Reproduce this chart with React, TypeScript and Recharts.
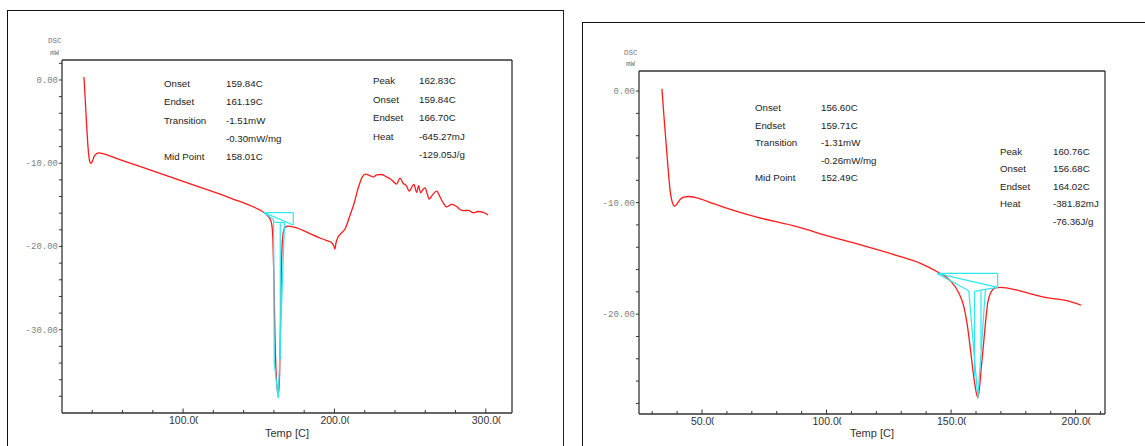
import React from 'react';
import { LineChart, Line, XAxis, YAxis, ReferenceLine } from 'recharts';

// ---------- Left panel data ----------
const leftTemp = [
  34.5, 35.3, 36.2, 37.0, 37.7, 38.4, 39.2, 40.1, 41.3, 42.8, 44.5, 47, 55, 70, 90, 110, 125, 133, 140, 146,
  151, 154.5, 156.5, 157.8, 158.7, 159.3, 159.9, 160.4, 161, 161.8, 162.4, 162.83, 163.3, 163.8, 164.3, 164.8,
  165.4, 166.2, 167.5, 169.5, 175, 182, 190, 195, 198.5, 199.7, 200.3, 201, 202, 204, 207, 210, 213, 216, 218.5,
  220.5, 223, 225.5, 228, 231, 234, 237, 239.5, 241, 243.3, 245.4, 247.5, 249.4, 251, 252.5, 254.3, 255.6, 256.9,
  258.3, 259.8, 261.2, 262.6, 264.8, 267.5, 270, 272, 274, 277.4, 280.7, 283, 285, 288.4, 291.7, 295, 298.3, 301.5,
];
const leftDsc = [
  0.36, -2.2, -5.2, -7.6, -9.1, -9.85, -10.0, -9.75, -9.15, -8.85, -8.75, -8.85, -9.35, -10.3, -11.55, -12.8, -13.75,
  -14.3, -14.75, -15.2, -15.65, -16.05, -16.45, -16.85, -17.5, -19.0, -23, -28, -33, -36.3, -37.4, -37.7, -37.2, -35,
  -30, -24, -20, -18.3, -17.7, -17.55, -17.76, -18.3, -18.95, -19.3, -19.6, -20.0, -20.3, -19.6, -19.0, -18.5, -17.9,
  -16.4, -14.8, -12.8, -11.6, -11.3, -11.45, -11.65, -11.4, -11.35, -11.6, -11.9, -12.3, -12.5, -11.8, -12.4, -12.7,
  -13.35, -12.9, -12.55, -13.5, -12.7, -13.55, -13.2, -12.95, -13.6, -14.3, -13.8, -13.35, -14.15, -14.8, -15.25,
  -14.95, -15.2, -15.55, -15.7, -15.65, -15.95, -15.8, -15.9, -16.2,
];
// analysis construction lines [t1, y1, t2, y2]
const leftSegments = [
  [153.6, -15.93, 172.8, -15.93],
  [172.8, -15.93, 172.8, -17.41],
  [153.6, -15.93, 172.8, -17.41],
  [153.6, -15.93, 159.8, -16.8],
  [159.8, -16.8, 160.2, -34.0],
  [160.2, -34.0, 162.9, -38.2],
  [160.3, -17.1, 167.0, -17.1],
  [164.2, -17.2, 164.2, -33.5],
  [167.0, -17.1, 162.9, -38.2],
];
const leftXTicks = [40, 60, 80, 100, 120, 140, 160, 180, 200, 220, 240, 260, 280, 300];
const leftXMajor = [100, 200, 300];
const leftYTicks = [2, 0, -2, -4, -6, -8, -10, -12, -14, -16, -18, -20, -22, -24, -26, -28, -30, -32, -34, -36, -38];
const leftYMajor = [0, -10, -20, -30];
const leftInfoALabels = ['Onset', 'Endset', 'Transition', '', 'Mid Point'];
const leftInfoAValues = ['159.84C', '161.19C', '-1.51mW', '-0.30mW/mg', '158.01C'];
const leftInfoBLabels = ['Peak', 'Onset', 'Endset', 'Heat', ''];
const leftInfoBValues = ['162.83C', '159.84C', '166.70C', '-645.27mJ', '-129.05J/g'];

// ---------- Right panel data ----------
const rightTemp = [
  33.9, 34.9, 35.9, 36.7, 37.3, 38.1, 39.0, 40.0, 41.3, 42.8, 44.6, 48, 54, 61.4, 72, 88, 101.5, 115, 128.3, 137.7,
  144.4, 149.7, 153.1, 155.1, 156.4, 157.8, 159.1, 160.0, 160.76, 161.4, 162.2, 162.9, 163.8, 164.7, 166.1, 167.8,
  169.8, 176.5, 183.2, 189.6, 196.5, 202.3,
];
const rightDsc = [
  0.2, -2.8, -5.6, -7.8, -9.1, -10.0, -10.32, -10.1, -9.7, -9.5, -9.45, -9.58, -10.05, -10.6, -11.3, -12.15, -13.05,
  -13.88, -14.75, -15.45, -16.2, -17.0, -18.1, -19.3, -20.8, -23.2, -25.6, -26.9, -27.5, -26.6, -24.6, -23.0, -20.8,
  -19.0, -18.0, -17.64, -17.6, -17.84, -18.25, -18.57, -18.78, -19.2,
];
const rightSegments = [
  [144.4, -16.35, 168.7, -16.35],
  [168.7, -16.35, 168.7, -17.6],
  [144.4, -16.35, 168.7, -17.6],
  [144.4, -16.35, 157.1, -17.9],
  [157.1, -17.9, 160.76, -27.5],
  [159.4, -17.95, 159.4, -25.6],
  [159.4, -17.95, 163.8, -17.78],
  [163.8, -17.78, 160.76, -27.5],
  [163.8, -17.78, 168.7, -17.6],
  [162.0, -17.9, 162.0, -23.2],
];
const rightXTicks = [30, 40, 50, 60, 70, 80, 90, 100, 110, 120, 130, 140, 150, 160, 170, 180, 190, 200, 210];
const rightXMajor = [50, 100, 150, 200];
const rightYTicks = [0, -2, -4, -6, -8, -10, -12, -14, -16, -18, -20, -22, -24, -26, -28];
const rightYMajor = [0, -10, -20];
const rightInfoALabels = ['Onset', 'Endset', 'Transition', '', 'Mid Point'];
const rightInfoAValues = ['156.60C', '159.71C', '-1.31mW', '-0.26mW/mg', '152.49C'];
const rightInfoBLabels = ['Peak', 'Onset', 'Endset', 'Heat', ''];
const rightInfoBValues = ['160.76C', '156.68C', '164.02C', '-381.82mJ', '-76.36J/g'];

// ---------- helpers ----------
const RED = '#ff1a1a';
const CYAN = '#2ee8f0';
const FRAME = '#333';
const SANS = '"Liberation Sans", Arial, sans-serif';
const MONO = '"Liberation Mono", "DejaVu Sans Mono", monospace';

const rows = (t: number[], v: number[]) => t.map((x, i) => ({ t: x, v: v[i] }));
const segRows = (s: number[]) => [
  { t: s[0], v: s[1] },
  { t: s[2], v: s[3] },
];

let clipCounter = 0;
const charW = (c: string) => (c === '.' ? 0.278 : 0.556);

const makeXTick = (majors: number[], prefix: string) => (props: any) => {
  const { x, y, payload } = props;
  const val = payload.value;
  const isMajor = majors.includes(val);
  const fs = 10.5;
  const label = val.toFixed(2);
  const chars = label.split('');
  const fullW = chars.reduce((a, c) => a + charW(c) * fs, 0);
  const lastW = charW(chars[chars.length - 1]) * fs;
  const start = x - fullW / 2 + 2;
  const clipRight = start + fullW - lastW + 2.6;
  const id = `${prefix}-x-${val}`;
  return (
    <g>
      <line x1={x} y1={y} x2={x} y2={y - (isMajor ? 4.5 : 3)} stroke={FRAME} strokeWidth={1} />
      {isMajor && (
        <>
          <defs>
            <clipPath id={id}>
              <rect x={start - 5} y={y} width={clipRight - start + 5} height={20} />
            </clipPath>
          </defs>
          <text
            x={start}
            y={y + 10.5}
            textAnchor="start"
            fontFamily={SANS}
            fontSize={fs}
            fill="#333"
            clipPath={`url(#${id})`}
          >
            {label}
          </text>
        </>
      )}
    </g>
  );
};

const makeYTick = (majors: number[]) => (props: any) => {
  const { x, y, payload } = props;
  const val = payload.value;
  const isMajor = majors.includes(val);
  return (
    <g>
      <line x1={x} y1={y} x2={x - 3} y2={y} stroke={FRAME} strokeWidth={1} />
      {isMajor && (
        <text x={x - 4} y={y + 3} textAnchor="end" fontFamily={MONO} fontSize={9} fill="#808080">
          {val.toFixed(2)}
        </text>
      )}
    </g>
  );
};

type PanelProps = {
  left: number;
  width: number;
  height: number;
  margin: { top: number; right: number; left: number; bottom: number };
  yWidth: number;
  xHeight: number;
  xDomain: [number, number];
  yDomain: [number, number];
  xTicks: number[];
  xMajor: number[];
  yTicks: number[];
  yMajor: number[];
  temp: number[];
  dsc: number[];
  segments: number[][];
  id: string;
};

const Panel = (p: PanelProps) => (
  <div style={{ position: 'absolute', left: p.left, top: 0 }}>
    <LineChart width={p.width} height={p.height} margin={p.margin}>
      <XAxis
        dataKey="t"
        type="number"
        domain={p.xDomain}
        allowDataOverflow
        ticks={p.xTicks}
        interval={0}
        tickSize={0}
        tickMargin={0}
        tickLine={false}
        tick={makeXTick(p.xMajor, p.id)}
        axisLine={{ stroke: FRAME, strokeWidth: 1.3 }}
        height={p.xHeight}
      />
      <YAxis
        dataKey="v"
        type="number"
        domain={p.yDomain}
        allowDataOverflow
        ticks={p.yTicks}
        interval={0}
        tickSize={0}
        tickMargin={0}
        tickLine={false}
        tick={makeYTick(p.yMajor)}
        axisLine={{ stroke: FRAME, strokeWidth: 1.3 }}
        width={p.yWidth}
      />
      <ReferenceLine y={p.yDomain[1]} stroke={FRAME} strokeWidth={1.3} />
      <ReferenceLine x={p.xDomain[1]} stroke={FRAME} strokeWidth={1.3} />
      <Line
        data={rows(p.temp, p.dsc)}
        dataKey="v"
        type="monotone"
        stroke={RED}
        strokeWidth={1.3}
        dot={false}
        isAnimationActive={false}
      />
      {p.segments.map((s, i) => (
        <Line
          key={`${p.id}-seg-${i}`}
          data={segRows(s)}
          dataKey="v"
          type="linear"
          stroke={CYAN}
          strokeWidth={1.2}
          dot={false}
          isAnimationActive={false}
        />
      ))}
    </LineChart>
  </div>
);

const InfoBlock = ({
  labels,
  values,
  x,
  valueX,
  top,
  step,
}: {
  labels: string[];
  values: string[];
  x: number;
  valueX: number;
  top: number;
  step: number;
}) => (
  <>
    {labels.map((l, i) => (
      <React.Fragment key={i}>
        {l && (
          <div style={{ ...infoStyle, left: x, top: top + i * step - 6 }}>{l}</div>
        )}
        <div style={{ ...infoStyle, left: valueX, top: top + i * step - 6 }}>{values[i]}</div>
      </React.Fragment>
    ))}
  </>
);

const infoStyle: React.CSSProperties = {
  position: 'absolute',
  fontFamily: SANS,
  fontSize: 9.7,
  lineHeight: '12px',
  color: '#222',
  whiteSpace: 'nowrap',
};

const unitStyle: React.CSSProperties = {
  position: 'absolute',
  fontFamily: MONO,
  fontSize: 7.5,
  lineHeight: '8px',
  color: '#777',
  whiteSpace: 'nowrap',
};

const axisTitleStyle: React.CSSProperties = {
  position: 'absolute',
  fontFamily: SANS,
  fontSize: 11,
  lineHeight: '12px',
  color: '#333',
  whiteSpace: 'nowrap',
  transform: 'translateX(-50%)',
};

export default function App() {
  return (
    <div
      style={{
        position: 'absolute',
        left: 0,
        top: 0,
        width: 1145,
        height: 446,
        overflow: 'hidden',
        background: '#fff',
      }}
    >
      {/* outer frames */}
      <div
        style={{
          position: 'absolute',
          left: 7,
          top: 10,
          width: 555,
          height: 460,
          borderTop: '1.3px solid #111',
          borderLeft: '1.3px solid #111',
          borderRight: '1.5px solid #222',
        }}
      />
      <div
        style={{
          position: 'absolute',
          left: 582,
          top: 22,
          width: 600,
          height: 460,
          borderTop: '1.3px solid #111',
          borderLeft: '1.3px solid #111',
        }}
      />

      <Panel
        id="L"
        left={0}
        width={563}
        height={446}
        margin={{ top: 60, right: 51, left: 0, bottom: 0 }}
        yWidth={62}
        xHeight={33}
        xDomain={[20, 317.3]}
        yDomain={[-40, 2.4]}
        xTicks={leftXTicks}
        xMajor={leftXMajor}
        yTicks={leftYTicks}
        yMajor={leftYMajor}
        temp={leftTemp}
        dsc={leftDsc}
        segments={leftSegments}
      />
      <Panel
        id="R"
        left={582}
        width={563}
        height={446}
        margin={{ top: 71, right: 40, left: 0, bottom: 0 }}
        yWidth={57}
        xHeight={32}
        xDomain={[24.7, 211.8]}
        yDomain={[-28.95, 1.8]}
        xTicks={rightXTicks}
        xMajor={rightXMajor}
        yTicks={rightYTicks}
        yMajor={rightYMajor}
        temp={rightTemp}
        dsc={rightDsc}
        segments={rightSegments}
      />

      {/* unit labels */}
      <div style={{ ...unitStyle, left: 48, top: 37 }}>DSC</div>
      <div style={{ ...unitStyle, left: 50, top: 49 }}>mW</div>
      <div style={{ ...unitStyle, left: 624, top: 49 }}>DSC</div>
      <div style={{ ...unitStyle, left: 626, top: 60 }}>mW</div>

      {/* axis titles */}
      <div style={{ ...axisTitleStyle, left: 287, top: 427 }}>Temp [C]</div>
      <div style={{ ...axisTitleStyle, left: 872, top: 427 }}>Temp [C]</div>

      {/* analysis texts */}
      <InfoBlock labels={leftInfoALabels} values={leftInfoAValues} x={164} valueX={226} top={84} step={18.3} />
      <InfoBlock labels={leftInfoBLabels} values={leftInfoBValues} x={373} valueX={419} top={81} step={18.5} />
      <InfoBlock labels={rightInfoALabels} values={rightInfoAValues} x={755} valueX={821} top={108.3} step={17.5} />
      <InfoBlock labels={rightInfoBLabels} values={rightInfoBValues} x={1000} valueX={1053} top={151.7} step={17.5} />
    </div>
  );
}
